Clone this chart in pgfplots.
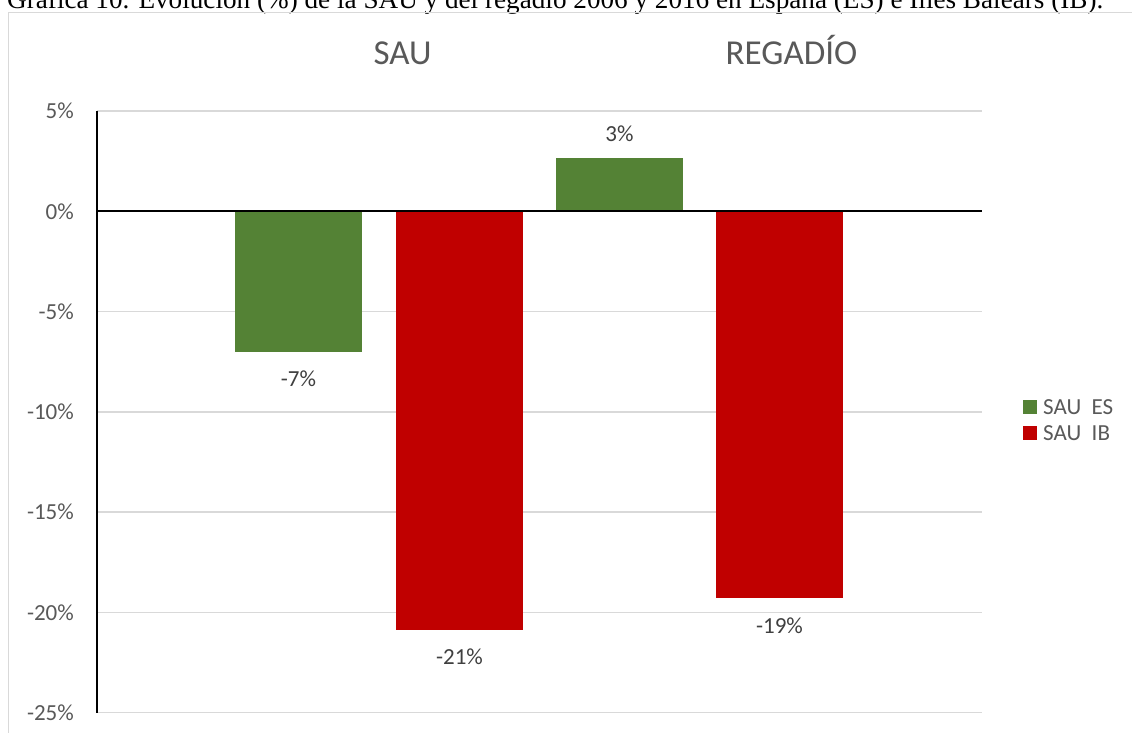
\documentclass[border=0pt]{standalone}
\usepackage{fontspec}
\setmainfont{Carlito}
\newfontfamily\titlefont{Liberation Serif}
\usepackage{pgfplots}
\pgfplotsset{compat=1.18}
\definecolor{grn}{HTML}{548235}
\definecolor{rd}{HTML}{C00000}
\definecolor{txt}{HTML}{595959}
\definecolor{lbl}{HTML}{404040}
\definecolor{grd}{HTML}{D9D9D9}
\begin{document}
\begin{tikzpicture}[x=1bp,y=1bp]
\clip (0,0) rectangle (1132,-733);
\fill[white] (0,0) rectangle (1132,-733);
\node[anchor=base west, inner sep=0pt] at (7,-9) {\resizebox{1096bp}{!}{\fontsize{23bp}{27bp}\titlefont Gráfica 10. Evolución (\%) de la SAU y del regadío 2006 y 2016 en España (ES) e Illes Balears (IB).}};
\draw[grd, line width=1.3bp] (8.5,-760) -- (8.5,-12.5) -- (1150,-12.5);
\node[anchor=base, inner sep=0pt, text=txt, font=\fontsize{35bp}{40bp}\selectfont] at (402.5,-65) {SAU};
\node[anchor=base, inner sep=0pt, text=txt, font=\fontsize{35bp}{40bp}\selectfont] at (791.5,-65) {REGADÍO};
\begin{axis}[
  at={(97bp,-712.7bp)}, anchor=south west,
  scale only axis, width=885bp, height=601.7bp,
  xmin=0, xmax=885, ymin=-25, ymax=5,
  xtick=\empty,
  ytick={5,0,-5,-10,-15,-20,-25},
  yticklabels={5\%,0\%,-5\%,-10\%,-15\%,-20\%,-25\%},
  yticklabel style={text=txt, font=\fontsize{23bp}{27bp}\selectfont, inner sep=0pt, xshift=-23bp},
  ymajorgrids, grid style={grd, line width=1.3bp},
  axis line style={draw=none},
  major tick style={draw=none},
  clip=false,
  legend style={at={(axis description cs:1.04633,0.48646)}, anchor=west,
    draw=none, fill=none, inner sep=0pt,
    nodes={inner sep=0pt, text depth=0pt, text=txt, font=\fontsize{23bp}{27bp}\selectfont},
    cells={anchor=west}, row sep=12bp, column sep=6bp},
  every node near coord/.append style={text=lbl, font=\fontsize{23bp}{27bp}\selectfont, inner sep=0pt, anchor=center},
]
\addplot[ybar, bar width=127, bar shift=0pt, fill=grn, draw=none,
  legend image code/.code={\fill[grn] (0bp,-7bp) rectangle (14bp,7bp);},
  nodes near coords={-7\%}, every node near coord/.append style={yshift=-27bp}]
  coordinates {(201.5,-7.0)};
\addlegendentry{SAU\ \ ES}
\addplot[ybar, bar width=127, bar shift=0pt, fill=rd, draw=none,
  legend image code/.code={\fill[rd] (0bp,-7bp) rectangle (14bp,7bp);},
  nodes near coords={-21\%}, every node near coord/.append style={yshift=-27bp}]
  coordinates {(362.5,-20.86)};
\addlegendentry{SAU\ \ IB}
\addplot[ybar, bar width=127, bar shift=0pt, fill=grn, draw=none, forget plot,
  nodes near coords={3\%}, every node near coord/.append style={yshift=24bp}]
  coordinates {(522.5,2.67)};
\addplot[ybar, bar width=127, bar shift=0pt, fill=rd, draw=none, forget plot,
  nodes near coords={-19\%}, every node near coord/.append style={yshift=-28bp}]
  coordinates {(682.5,-19.27)};
\draw[black, line width=2.25bp] (axis cs:0,0) -- (axis cs:885,0);
\draw[black, line width=1.5bp] (axis cs:0,5) -- (axis cs:0,-25);
\end{axis}
\end{tikzpicture}
\end{document}
